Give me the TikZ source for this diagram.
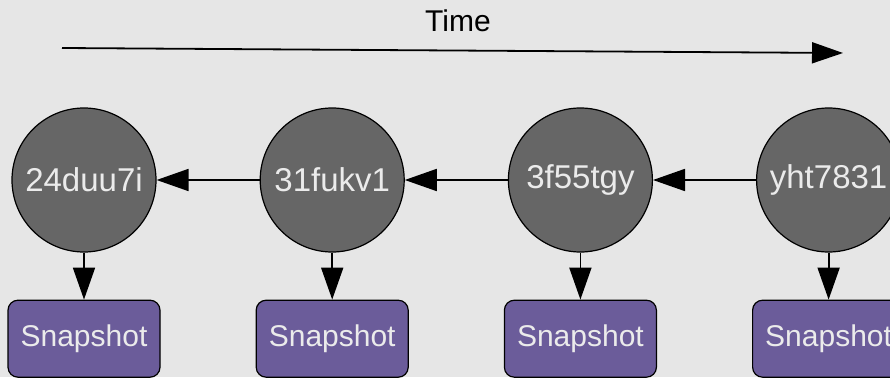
\documentclass[tikz,border=0pt]{standalone}
\usepackage{fontspec}
\setmainfont{Liberation Sans}
\usetikzlibrary{arrows.meta, positioning}

\definecolor{bggray}{HTML}{E6E6E6}
\definecolor{commitgray}{HTML}{666666}
\definecolor{snappurple}{HTML}{6B5C9A}
\definecolor{labelwhite}{HTML}{EBEBEB}

\begin{document}
\begin{tikzpicture}[
    x=1pt, y=1pt,
    commit/.style={draw, circle, fill=commitgray, line width=1.2pt,
                   minimum size=144pt, inner sep=0pt, text=labelwhite,
                   font=\fontsize{33}{36}\selectfont},
    snap/.style={draw, rounded corners=10pt, fill=snappurple, line width=1.2pt,
                 minimum width=152pt, minimum height=77pt, inner sep=0pt,
                 text=labelwhite, font=\fontsize{30}{34}\selectfont},
    link/.style={-{Triangle[length=32pt, width=22pt]}, line width=1.8pt},
    node distance=103pt and 47pt
  ]
    \useasboundingbox (0,0) rectangle (890,-377);
    \clip (0,0) rectangle (890,-377);
    \fill[bggray] (0,0) rectangle (890,-377);

    % time axis
    \node[font=\fontsize{30}{34}\selectfont] (time) at (458,-21) {Time};
    \coordinate (t0) at (62,-48);
    \coordinate (t1) at (843,-53);
    \draw[-{Triangle[length=31pt, width=21pt]}, line width=1.8pt] (t0) -- (t1);

    % commits, oldest on the left
    \node[commit] (c1) at (84,-180) {24duu7i};
    \node[commit, right=103pt of c1] (c2) {31fukv1};
    \node[commit, right=103pt of c2] (c3) {3f55tgy};
    \node[commit, right=103pt of c3] (c4) {yht7831};

    % parent links
    \draw[link] (c2) -- (c1);
    \draw[link] (c3) -- (c2);
    \draw[link] (c4) -- (c3);

    % one snapshot per commit
    \foreach \i in {1,...,4} {
      \node[snap, below=47pt of c\i] (s\i) {Snapshot};
      \draw[link] (c\i) -- (s\i);
    }
\end{tikzpicture}
\end{document}
